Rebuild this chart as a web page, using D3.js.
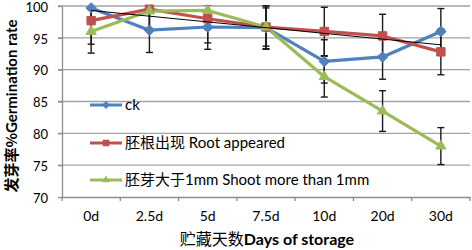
<!DOCTYPE html>
<html>
<head>
<meta charset="utf-8">
<script src="https://cdn.jsdelivr.net/npm/d3@7"></script>
<style>
  body { margin: 0; background: #fff; }
  svg { display: block; }
</style>
</head>
<body>
<div id="container"></div>
<script>
/* DATA */
const categories = ["0d", "2.5d", "5d", "7.5d", "10d", "20d", "30d"];
const ckValues = [99.7, 96.2, 96.7, 96.6, 91.3, 92.0, 96.0];
const ckErrors = [2.0, 3.5, 3.5, 3.4, 3.4, 3.5, 3.6];
const rootValues = [97.7, 99.5, 98.0, 96.7, 96.0, 95.3, 92.8];
const rootErrors = [3.7, 3.5, 3.8, 3.4, 3.8, 3.4, 3.6];
const shootValues = [96.0, 99.2, 99.3, 96.7, 88.9, 83.5, 78.0];
const shootErrors = [3.4, 3.0, 3.0, 3.0, 3.2, 3.2, 2.9];
const trendValues = [99.3, 93.9]; // linear trend of the root series, first and last category
const yTicks = [70, 75, 80, 85, 90, 95, 100];
const seriesNames = ["ck", "胚根出现 Root appeared", "胚芽大于1mm Shoot more than 1mm"];

/* CONSTANTS */
const width = 472, height = 250;
const margin = { top: 6, bottom: 53, left: 62, right: 2 };
const font = "Lato, 'Open Sans', sans-serif";

const series = [
  { name: seriesNames[0], values: ckValues, errors: ckErrors, color: "#4F81BD", shape: d3.symbolDiamond2, size: 70, legendSize: 40 },
  { name: seriesNames[1], values: rootValues, errors: rootErrors, color: "#C0504D", shape: d3.symbolSquare2, size: 90, legendSize: 55 },
  { name: seriesNames[2], values: shootValues, errors: shootErrors, color: "#9BBB59", shape: d3.symbolTriangle2, size: 75, legendSize: 45 }
];

const svg = d3.select("#container")
  .append("svg")
  .attr("width", width)
  .attr("height", height);

/* SCALES */
const xScale = d3.scaleBand()
  .domain(categories)
  .range([margin.left, width - margin.right]);
const cx = d => xScale(d) + xScale.bandwidth() / 2;

const yScale = d3.scaleLinear()
  .domain([70, 100])
  .range([height - margin.bottom, margin.top]);

svg.append("clipPath").attr("id", "plot-clip")
  .append("rect")
  .attr("x", margin.left).attr("y", margin.top - 1)
  .attr("width", width - margin.left - margin.right)
  .attr("height", height - margin.top - margin.bottom + 1);

/* GRIDLINES */
svg.append("g")
  .selectAll("line")
  .data(yTicks.filter(d => d > 70))
  .join("line")
  .attr("x1", margin.left - 4)
  .attr("x2", width - margin.right)
  .attr("y1", d => yScale(d))
  .attr("y2", d => yScale(d))
  .attr("stroke", "#a3a3a3")
  .attr("stroke-width", 1.3);

/* AXES */
const yAxis = d3.axisLeft(yScale)
  .tickValues(yTicks)
  .tickSize(4)
  .tickSizeOuter(0);
svg.append("g")
  .attr("transform", `translate(${margin.left}, 0)`)
  .call(yAxis)
  .call(g => g.select(".domain").attr("stroke", "#8c8c8c").attr("stroke-width", 1.3))
  .call(g => g.selectAll(".tick line").attr("stroke", "#8c8c8c").attr("stroke-width", 1.3))
  .call(g => g.selectAll(".tick text")
    .attr("x", -14)
    .attr("dy", "0.4em")
    .style("font-family", font)
    .style("font-size", "13px")
    .attr("fill", "#000"));

const xAxis = d3.axisBottom(xScale)
  .tickSize(0)
  .tickSizeOuter(0);
svg.append("g")
  .attr("transform", `translate(0, ${yScale(70)})`)
  .call(xAxis)
  .call(g => g.select(".domain").attr("stroke", "#8c8c8c").attr("stroke-width", 1.3))
  .call(g => g.selectAll(".tick text")
    .attr("y", 14)
    .style("font-family", font)
    .style("font-size", "14px")
    .attr("fill", "#000"));

// category boundary ticks
svg.append("g")
  .selectAll("line")
  .data(categories.map(d => xScale(d)).concat([xScale.range()[1]]))
  .join("line")
  .attr("x1", d => d).attr("x2", d => d)
  .attr("y1", yScale(70)).attr("y2", yScale(70) + 4)
  .attr("stroke", "#8c8c8c")
  .attr("stroke-width", 1.3);

/* AXIS TITLES */
const xTitle = svg.append("text")
  .attr("x", 267)
  .attr("y", 245)
  .attr("text-anchor", "middle")
  .style("font-family", font)
  .style("font-size", "16px")
  .attr("fill", "#000");
xTitle.append("tspan").style("font-family", "'Noto Sans CJK SC'").text("贮藏天数");
xTitle.append("tspan").style("font-weight", "bold").text("Days of storage");

const yTitle = svg.append("text")
  .attr("transform", `translate(17, 106) rotate(-90)`)
  .attr("text-anchor", "middle")
  .style("font-family", font)
  .style("font-size", "15px")
  .style("font-weight", "bold")
  .attr("fill", "#000");
yTitle.append("tspan").style("font-family", "'Noto Sans CJK SC'").text("发芽率%");
yTitle.append("tspan").text("Germination rate");

/* LINES */
const line = d3.line()
  .x((d, i) => cx(categories[i]))
  .y(d => yScale(d));

svg.append("g")
  .selectAll("path")
  .data(series)
  .join("path")
  .attr("d", d => line(d.values))
  .attr("fill", "none")
  .attr("stroke", d => d.color)
  .attr("stroke-width", 3.2)
  .attr("stroke-linejoin", "round");

/* ERROR BARS */
const errGroup = svg.append("g").attr("clip-path", "url(#plot-clip)");
series.forEach(s => {
  const bars = errGroup.append("g")
    .selectAll("g")
    .data(s.values.map((v, i) => ({ cat: categories[i], v: v, e: s.errors[i] })))
    .join("g")
    .attr("stroke", "#1a1a1a")
    .attr("stroke-width", 1.4);
  bars.append("line")
    .attr("x1", d => cx(d.cat)).attr("x2", d => cx(d.cat))
    .attr("y1", d => yScale(d.v + d.e)).attr("y2", d => yScale(d.v - d.e));
  bars.append("line")
    .attr("x1", d => cx(d.cat) - 3.5).attr("x2", d => cx(d.cat) + 3.5)
    .attr("y1", d => yScale(d.v + d.e)).attr("y2", d => yScale(d.v + d.e));
  bars.append("line")
    .attr("x1", d => cx(d.cat) - 3.5).attr("x2", d => cx(d.cat) + 3.5)
    .attr("y1", d => yScale(d.v - d.e)).attr("y2", d => yScale(d.v - d.e));
});

/* MARKERS */
series.forEach(s => {
  svg.append("g")
    .selectAll("path")
    .data(s.values)
    .join("path")
    .attr("transform", (d, i) => `translate(${cx(categories[i])}, ${yScale(d)})`)
    .attr("d", d3.symbol().type(s.shape).size(s.size))
    .attr("fill", s.color)
    .attr("stroke", s.color)
    .attr("stroke-width", 1);
});

/* TREND LINE */
svg.append("line")
  .attr("x1", cx(categories[0]))
  .attr("x2", cx(categories[categories.length - 1]))
  .attr("y1", yScale(trendValues[0]))
  .attr("y2", yScale(trendValues[1]))
  .attr("stroke", "#000")
  .attr("stroke-width", 1);

/* LEGEND */
const legendY = [105, 143, 180];
const legend = svg.append("g")
  .selectAll("g")
  .data(series)
  .join("g")
  .attr("transform", (d, i) => `translate(90, ${legendY[i]})`);
legend.append("line")
  .attr("x1", 0).attr("x2", 32)
  .attr("stroke", d => d.color)
  .attr("stroke-width", 3);
legend.append("path")
  .attr("transform", "translate(16, 0)")
  .attr("d", d => d3.symbol().type(d.shape).size(d.legendSize)())
  .attr("fill", d => d.color);
legend.append("text")
  .attr("x", 35)
  .attr("y", 5)
  .style("font-family", "Lato, 'Noto Sans CJK SC', sans-serif")
  .style("font-size", "15px")
  .attr("fill", "#000")
  .text(d => d.name);
</script>
</body>
</html>
